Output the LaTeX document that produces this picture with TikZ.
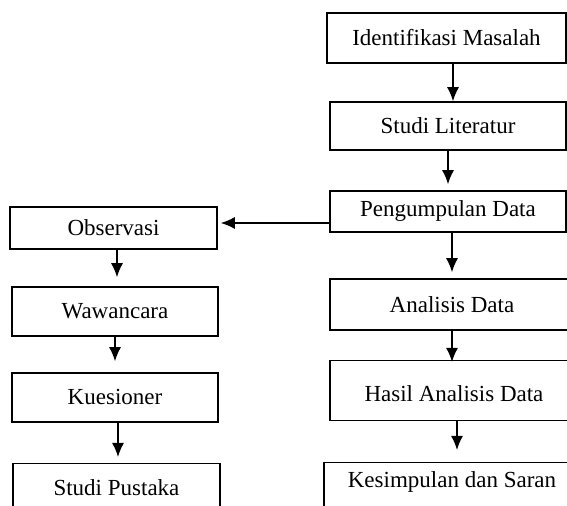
\documentclass[tikz,border=0pt]{standalone}
\usepackage{fontspec}
\setmainfont{Liberation Serif}
\usetikzlibrary{arrows.meta}

\begin{document}
\begin{tikzpicture}[x=0.5pt, y=-0.5pt, line width=0.75pt, >={Latex[length=7pt,width=6pt]},
  tahap/.style={draw, rectangle, inner sep=0pt, font=\fontsize{11.5}{13}\selectfont}]
\useasboundingbox (0,0) rectangle (567,506);
\clip (0,0) rectangle (567,506);

%alur utama
\node[tahap, minimum width=119.5pt, minimum height=25pt] (identifikasi) at (446.5,38) {Identifikasi Masalah};
\node[tahap, minimum width=118pt, minimum height=24pt] (literatur) at (448,126) {Studi Literatur};
\node[tahap, minimum width=118pt, minimum height=20.5pt] (pengumpulan) at (448,211.5) {Pengumpulan Data};
\node[tahap, minimum width=122pt, minimum height=25.5pt] (analisis) at (452,304.5) {Analisis Data};
\node[tahap, anchor=north, minimum width=124pt, text height=20.5pt, text depth=9.5pt] (hasil) at (454,360) {Hasil Analisis Data};
\node[tahap, anchor=north, minimum width=128pt, inner ysep=4pt, text height=8.5pt, text depth=20pt] (kesimpulan) at (452,462) {Kesimpulan dan Saran};

%pengumpulan data
\node[tahap, minimum width=103.5pt, minimum height=21pt] (observasi) at (113.5,228) {Observasi};
\node[tahap, minimum width=103pt, minimum height=24.5pt] (wawancara) at (115,311.5) {Wawancara};
\node[tahap, minimum width=103pt, minimum height=24.5pt] (kuesioner) at (115,397.5) {Kuesioner};
\node[tahap, anchor=north, minimum width=103.5pt, inner ysep=4pt, text height=12pt, text depth=20pt] (pustaka) at (116.5,463) {Studi Pustaka};

\foreach \dari/\ke/\posx/\jarak in {identifikasi/literatur/453/0pt, literatur/pengumpulan/448/3pt,
    pengumpulan/analisis/452/3pt, analisis/hasil/452/-1pt, hasil/kesimpulan/457/6pt,
    observasi/wawancara/117/4.5pt, wawancara/kuesioner/115/5.5pt, kuesioner/pustaka/118/3pt} {
  \draw[->, shorten >=\jarak] (\dari.south -| \posx,0) -- (\ke.north -| \posx,0);
}

\draw[->, shorten >=1.5pt] (pengumpulan.west |- 0,223) -- (observasi.east |- 0,223);
\end{tikzpicture}
\end{document}
